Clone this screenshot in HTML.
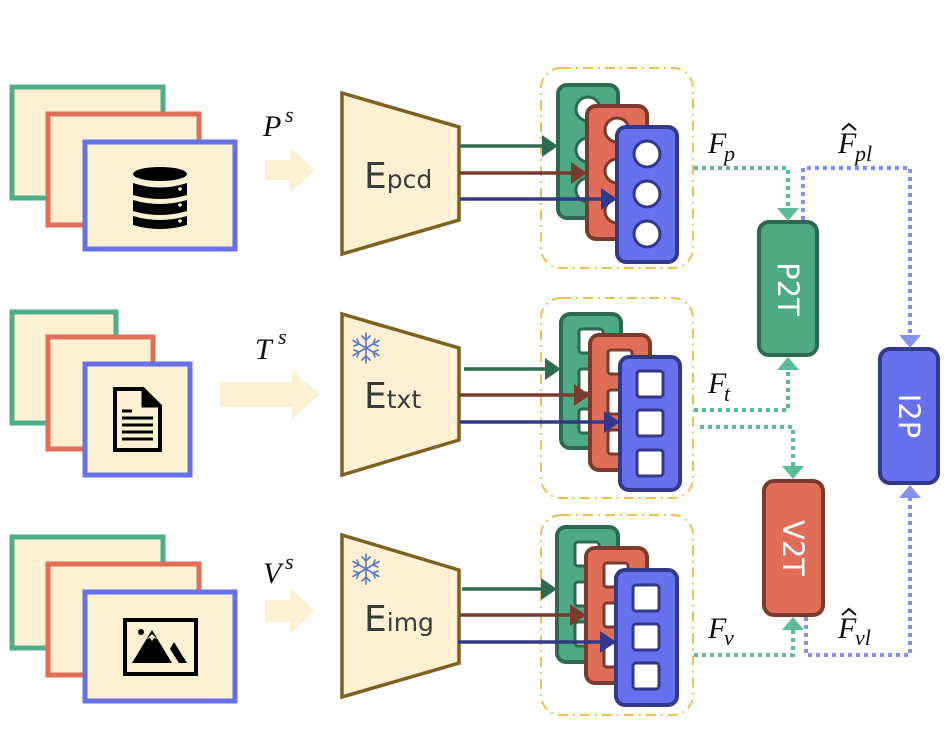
<!DOCTYPE html>
<html><head><meta charset="utf-8"><style>
html,body{margin:0;padding:0;background:#fff}
svg{display:block}
.m{font-family:"Liberation Serif",serif;font-style:italic;font-size:30px;fill:#111}
.s{font-family:"Liberation Serif",serif;font-style:italic;font-size:22px;fill:#111}
.enc{font-family:"DejaVu Sans","Liberation Sans",sans-serif;fill:#3a3a3a}
.bt{font-family:"DejaVu Sans","Liberation Sans",sans-serif;font-size:29px;fill:#fff}
</style></head><body>
<svg width="950" height="750" viewBox="0 0 950 750" xmlns="http://www.w3.org/2000/svg">
<defs>
<g id="snow" stroke="#5577cc" stroke-width="1.6" fill="none" stroke-linecap="round">
<path d="M0,-15V15M-13,-7.5L13,7.5M-13,7.5L13,-7.5"/>
<path d="M-4,-12L0,-8L4,-12M-4,12L0,8L4,12M-12,-2L-7,-4L-9,-9M12,2L7,4L9,9M-12,2L-7,4L-9,9M12,-2L7,-4L9,-9"/>
</g>
</defs>

<g fill="#fcf1d2" stroke-width="5">
<rect x="12" y="87" width="151" height="111" stroke="#4fae8a"/>
<rect x="48" y="114" width="151" height="111" stroke="#e06e58"/>
<rect x="85" y="142" width="150" height="107" stroke="#6670e8"/>
<rect x="12" y="312" width="104" height="111" stroke="#4fae8a"/>
<rect x="48" y="337" width="105" height="112" stroke="#e06e58"/>
<rect x="85" y="364" width="105" height="111" stroke="#6670e8"/>
<rect x="12" y="537" width="151" height="111" stroke="#4fae8a"/>
<rect x="48" y="564" width="151" height="111" stroke="#e06e58"/>
<rect x="85" y="592" width="150" height="109" stroke="#6670e8"/>
</g>
<g fill="#000">
<ellipse cx="160" cy="174" rx="27" ry="7"/>
<path d="M133,183 Q160,192 187,183 V195 Q160,203 133,195Z"/>
<path d="M133,200 Q160,208 187,200 V211 Q160,219 133,211Z"/>
<path d="M133,216 Q160,224 187,216 V225 Q160,233 133,225Z"/>
</g>
<g fill="#fcf1d2"><circle cx="180" cy="189" r="1.8"/><circle cx="180" cy="205" r="1.8"/><circle cx="180" cy="221" r="1.8"/></g>
<path d="M115,389 H143 L160,406 V450 H115Z" fill="none" stroke="#000" stroke-width="4"/>
<path d="M143,389 V406 H160" fill="#000" stroke="#000" stroke-width="3"/>
<g stroke="#000" stroke-width="3"><path d="M122,411H132M122,418H153M122,425H153M122,432H153M122,439H153"/></g>
<rect x="125" y="620" width="71" height="54" fill="none" stroke="#000" stroke-width="4"/>
<circle cx="141" cy="632" r="3" fill="#000"/>
<path d="M132,663 L152,630 L172,663Z" fill="#000"/>
<path d="M174,642 L187,663 H179 L170,649Z" fill="#000"/>
<path d="M147,639 L152,634 L157,639 L154,638 L152,641 L150,638Z" fill="#fcf1d2"/>

<g fill="#fcf1d2">
<path d="M265,160 H290 V147 L315,170 L290,193 V180 H265Z"/>
<path d="M220,382 H292 V370 L320,394 L292,419 V407 H220Z"/>
<path d="M265,600 H290 V588 L315,611 L290,634 V622 H265Z"/>
</g>
<text x="263" y="136" class="m">P</text><text x="285" y="122" class="s">s</text>
<text x="255" y="359" class="m">T</text><text x="278" y="344" class="s">s</text>
<text x="263" y="583" class="m">V</text><text x="285" y="569" class="s">s</text>

<g fill="#fcf1d2" stroke="#7d6120" stroke-width="3.5" stroke-linejoin="miter">
<path d="M342,93 L459,127 V220 L342,254Z"/>
<path d="M342,314 L459,348 V440 L342,475Z"/>
<path d="M342,535 L459,570 V663 L342,697Z"/>
</g>
<use href="#snow" x="366" y="348"/>
<use href="#snow" x="366" y="569"/>
<text x="364" y="188" class="enc"><tspan font-size="36">E</tspan><tspan font-size="25">pcd</tspan></text>
<text x="364" y="408" class="enc"><tspan font-size="36">E</tspan><tspan font-size="25">txt</tspan></text>
<text x="364" y="631" class="enc"><tspan font-size="36">E</tspan><tspan font-size="25">img</tspan></text>

<g fill="none" stroke="#f0c050" stroke-width="2" stroke-dasharray="10,5,2,5">
<rect x="541" y="68" width="152" height="200" rx="20"/>
<rect x="541" y="298" width="152" height="200" rx="20"/>
<rect x="541" y="515" width="152" height="200" rx="20"/>
</g>

<g stroke-width="4">
<rect x="558" y="85" width="60" height="133" rx="9" fill="#4fa985" stroke="#2d6850"/>
<g fill="#fff" stroke="#2d6850" stroke-width="3"><circle cx="588" cy="109" r="12"/><circle cx="588" cy="150" r="12"/><circle cx="588" cy="190" r="12"/></g>
<rect x="587" y="106" width="60" height="133" rx="9" fill="#e06d57" stroke="#7a3a2c"/>
<g fill="#fff" stroke="#7a3a2c" stroke-width="3"><circle cx="617" cy="130" r="12"/><circle cx="617" cy="171" r="12"/><circle cx="617" cy="211" r="12"/></g>
<rect x="617" y="127" width="60" height="135" rx="9" fill="#6671ee" stroke="#33398a"/>
<g fill="#fff" stroke="#33398a" stroke-width="3"><circle cx="647" cy="154" r="13"/><circle cx="647" cy="194" r="13"/><circle cx="647" cy="234" r="13"/></g>
</g>
<g stroke-width="4">
<rect x="561" y="314" width="60" height="134" rx="9" fill="#4fa985" stroke="#2d6850"/>
<g fill="#fff" stroke="#2d6850" stroke-width="3"><rect x="579" y="329" width="24" height="24" rx="3"/><rect x="579" y="369" width="24" height="24" rx="3"/><rect x="579" y="409" width="24" height="24" rx="3"/></g>
<rect x="590" y="335" width="60" height="135" rx="9" fill="#e06d57" stroke="#7a3a2c"/>
<g fill="#fff" stroke="#7a3a2c" stroke-width="3"><rect x="608" y="350" width="24" height="24" rx="3"/><rect x="608" y="390" width="24" height="24" rx="3"/><rect x="608" y="430" width="24" height="24" rx="3"/></g>
<rect x="620" y="357" width="60" height="133" rx="9" fill="#6671ee" stroke="#33398a"/>
<g fill="#fff" stroke="#33398a" stroke-width="3"><rect x="637" y="371" width="26" height="26" rx="3"/><rect x="637" y="410" width="26" height="26" rx="3"/><rect x="637" y="450" width="26" height="26" rx="3"/></g>
</g>
<g stroke-width="4">
<rect x="557" y="527" width="61" height="135" rx="9" fill="#4fa985" stroke="#2d6850"/>
<g fill="#fff" stroke="#2d6850" stroke-width="3"><rect x="575" y="542" width="24" height="24" rx="3"/><rect x="575" y="582" width="24" height="24" rx="3"/><rect x="575" y="622" width="24" height="24" rx="3"/></g>
<rect x="586" y="548" width="61" height="135" rx="9" fill="#e06d57" stroke="#7a3a2c"/>
<g fill="#fff" stroke="#7a3a2c" stroke-width="3"><rect x="604" y="563" width="24" height="24" rx="3"/><rect x="604" y="603" width="24" height="24" rx="3"/><rect x="604" y="643" width="24" height="24" rx="3"/></g>
<rect x="616" y="570" width="61" height="135" rx="9" fill="#6671ee" stroke="#33398a"/>
<g fill="#fff" stroke="#33398a" stroke-width="3"><rect x="633" y="585" width="26" height="26" rx="3"/><rect x="633" y="624" width="26" height="26" rx="3"/><rect x="633" y="663" width="26" height="26" rx="3"/></g>
</g>

<g stroke-width="3.5">
<line x1="460" y1="146" x2="545" y2="146" stroke="#2f6b50"/><path d="M542,135 L558,146 L542,157Z" fill="#2f6b50"/>
<line x1="460" y1="173" x2="574" y2="173" stroke="#7a3a2c"/><path d="M571,162 L587,173 L571,184Z" fill="#7a3a2c"/>
<line x1="460" y1="199" x2="604" y2="199" stroke="#33398a"/><path d="M601,188 L617,199 L601,210Z" fill="#33398a"/>
<line x1="464" y1="369" x2="548" y2="369" stroke="#2f6b50"/><path d="M545,358 L561,369 L545,380Z" fill="#2f6b50"/>
<line x1="460" y1="395" x2="577" y2="395" stroke="#7a3a2c"/><path d="M574,384 L590,395 L574,406Z" fill="#7a3a2c"/>
<line x1="460" y1="422" x2="607" y2="422" stroke="#33398a"/><path d="M604,411 L620,422 L604,433Z" fill="#33398a"/>
<line x1="462" y1="589" x2="544" y2="589" stroke="#2f6b50"/><path d="M541,578 L557,589 L541,600Z" fill="#2f6b50"/>
<line x1="460" y1="615" x2="573" y2="615" stroke="#7a3a2c"/><path d="M570,604 L586,615 L570,626Z" fill="#7a3a2c"/>
<line x1="458" y1="642" x2="603" y2="642" stroke="#33398a"/><path d="M600,631 L616,642 L600,653Z" fill="#33398a"/>
</g>

<rect x="759" y="222" width="58" height="133" rx="10" fill="#4fa985" stroke="#2d6850" stroke-width="4"/>
<rect x="764" y="481" width="59" height="134" rx="10" fill="#e06d57" stroke="#7a3a2c" stroke-width="4"/>
<rect x="880" y="349" width="58" height="134" rx="10" fill="#6671ee" stroke="#33398a" stroke-width="4"/>
<text class="bt" transform="translate(778,289) rotate(90)" text-anchor="middle">P2T</text>
<text class="bt" transform="translate(783,548) rotate(90)" text-anchor="middle">V2T</text>
<text class="bt" transform="translate(899,416) rotate(90)" text-anchor="middle">I2P</text>

<g fill="none" stroke-width="4" stroke-dasharray="4,4">
<path d="M694,168 H788 V212" stroke="#5cbb98"/>
<path d="M803,220 V168 H910 V338" stroke="#8890ee"/>
<path d="M694,410 H788 V367" stroke="#5cbb98"/>
<path d="M700,427 H793 V470" stroke="#5cbb98"/>
<path d="M694,655 H793 V626" stroke="#5cbb98"/>
<path d="M806,617 V655 H910 V497" stroke="#8890ee"/>
</g>
<g>
<path d="M777,208 L788,221 L799,208Z" fill="#5cbb98"/>
<path d="M777,370 L788,357 L799,370Z" fill="#5cbb98"/>
<path d="M782,466 L793,479 L804,466Z" fill="#5cbb98"/>
<path d="M782,630 L793,617 L804,630Z" fill="#5cbb98"/>
<path d="M899,335 L910,348 L921,335Z" fill="#8890ee"/>
<path d="M899,498 L910,485 L921,498Z" fill="#8890ee"/>
</g>

<text x="708" y="153" class="m">F</text><text x="724" y="161" class="s">p</text>
<text x="838" y="153" class="m">F</text><text x="855" y="161" class="s">pl</text>
<path d="M842,130 L849,124 L856,130" fill="none" stroke="#111" stroke-width="2"/>
<text x="708" y="393" class="m">F</text><text x="724" y="401" class="s">t</text>
<text x="708" y="638" class="m">F</text><text x="724" y="645" class="s">v</text>
<text x="838" y="638" class="m">F</text><text x="855" y="645" class="s">vl</text>
<path d="M842,615 L849,609 L856,615" fill="none" stroke="#111" stroke-width="2"/>
</svg>
</body></html>
